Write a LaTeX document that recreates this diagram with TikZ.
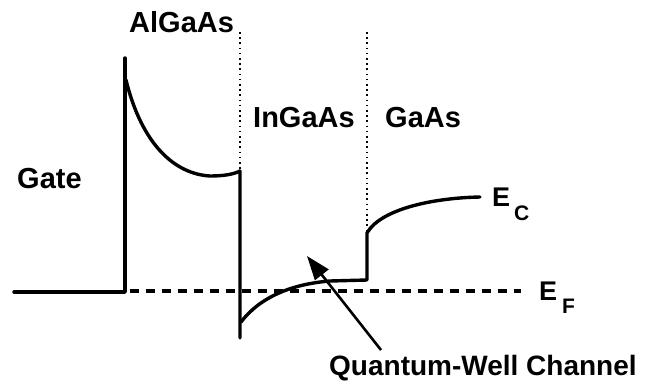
\documentclass[tikz,border=0pt]{standalone}
\usepackage{fontspec}
\setmainfont{Liberation Sans}
\usetikzlibrary{arrows.meta}
\begin{document}
\begin{tikzpicture}[x=1pt,y=-1pt,
  band/.style={line width=3.4pt,line join=round,line cap=round},
  boundary/.style={line width=1.6pt,dash pattern=on 1.6pt off 3.6pt},
  fermi/.style={line width=3.2pt,dash pattern=on 9pt off 7pt},
  lbl/.style={font=\fontsize{29}{30}\selectfont\bfseries,anchor=base west,inner sep=0pt},
  qlbl/.style={font=\fontsize{28}{30}\selectfont\bfseries,anchor=base west,inner sep=0pt},
  elbl/.style={font=\fontsize{27}{28}\selectfont\bfseries,anchor=base west,inner sep=0pt},
  sublbl/.style={font=\fontsize{21}{22}\selectfont\bfseries,anchor=base west,inner sep=0pt},
  pointer/.style={line width=2.6pt,-{Triangle[length=24pt,width=17pt]}}]
\useasboundingbox (0,0) rectangle (662,383);
\fill[white] (0,0) rectangle (662,383);
% boundaries
\draw[boundary] (240,32) -- (240,171);
\draw[boundary] (367,32) -- (367,233);
% Fermi level
\draw[fermi] (130,291) -- (521,291);
% conduction band
\draw[band] (14,292) -- (125,292) -- (125,58);
\draw[band] (126,80) .. controls (142,145) and (175,174) .. (210,176)
  .. controls (225,176) and (234,174) .. (240,171) -- (240,338);
\draw[band] (241,322) .. controls (260,297) and (292,284) .. (330,281)
  -- (367,280) -- (367,233)
  .. controls (380,210) and (430,198) .. (480,197);
% labels
\node[lbl] (algaas) at (129,32) {AlGaAs};
\node[lbl] (gate) at (17,188) {Gate};
\node[lbl] (ingaas) at (253,127) {InGaAs};
\node[lbl] (gaas) at (385,127) {GaAs};
\node[qlbl] (qw) at (329,375) {Quantum-Well Channel};
\node[elbl] (ec) at (492,206) {E};
\node[sublbl] (ecsub) at (514,220) {C};
\node[elbl] (ef) at (539,300) {E};
\node[sublbl] (efsub) at (562,313) {F};
% pointer
\coordinate (arrstart) at (381,350);
\coordinate (arrtip) at (307,256);
\draw[pointer] (arrstart) -- (arrtip);
\end{tikzpicture}
\end{document}
